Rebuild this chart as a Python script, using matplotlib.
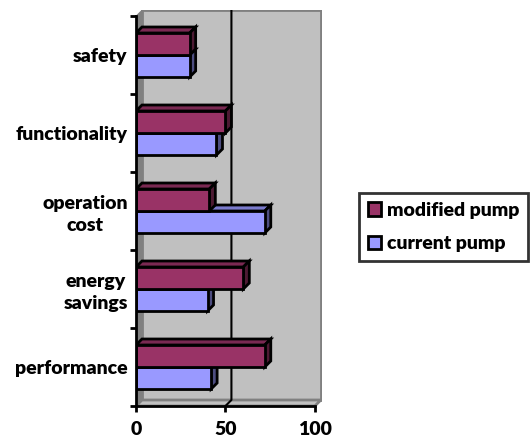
import numpy as np
import matplotlib.pyplot as plt
from matplotlib.patches import Polygon, Patch

plt.rcParams['font.family'] = 'Lato'
plt.rcParams['font.weight'] = 'heavy'
plt.rcParams['font.size'] = 14

categories = ['performance', 'energy\nsavings', 'operation\ncost', 'functionality', 'safety']
modified_pump = [72, 60, 41, 50, 30]
current_pump = [42, 40, 72, 45, 30]

c_mod = ('#993366', '#7a2952', '#4d1a33')   # front, top, side
c_cur = ('#9999ff', '#7a7acc', '#4d4d80')

W, H = 532, 441
fig = plt.figure(figsize=(W / 100, H / 100), dpi=100)
ax = fig.add_axes([136 / W, 1 - 406 / H, 186 / W, 396 / H])

xmax = 100
dx = 6 * 104 / 186          # depth offset in value units
dy = 6 / 78                 # depth offset in category units
ax.set_xlim(0, 104)
ax.set_ylim(-0.5, 4.5 + dy)

# walls and floor
ax.add_patch(Polygon([(dx, -0.5 + dy), (xmax + dx, -0.5 + dy), (xmax + dx, 4.5 + dy), (dx, 4.5 + dy)],
                     closed=True, fc='#c0c0c0', ec='#808080', lw=2, zorder=0))
ax.add_patch(Polygon([(0, -0.5), (dx, -0.5 + dy), (dx, 4.5 + dy), (0, 4.5)],
                     closed=True, fc='#808080', ec='#808080', lw=0.5, zorder=0))
ax.add_patch(Polygon([(0, -0.5), (xmax, -0.5), (xmax + dx, -0.5 + dy), (dx, -0.5 + dy)],
                     closed=True, fc='#c0c0c0', ec='#808080', lw=2, zorder=0))
ax.plot([50 + dx, 50 + dx, 50], [4.5 + dy, -0.5 + dy, -0.5], color='black', lw=1.5, zorder=1)

h = 0.282
y = np.arange(len(categories))


def bars3d(yc, vals, cols):
    ax.barh(yc, vals, height=h, color=cols[0], edgecolor='black', lw=2, zorder=3)
    for yi, v in zip(yc, vals):
        top = yi + h / 2
        bot = yi - h / 2
        ax.add_patch(Polygon([(0, top), (v, top), (v + dx, top + dy), (dx, top + dy)],
                             closed=True, fc=cols[1], ec='black', lw=2, zorder=2))
        ax.add_patch(Polygon([(v, bot), (v, top), (v + dx, top + dy), (v + dx, bot + dy)],
                             closed=True, fc=cols[2], ec='black', lw=2, zorder=2))


bars3d(y - h / 2, current_pump, c_cur)
bars3d(y + h / 2, modified_pump, c_mod)

# axes
for s in ['top', 'right']:
    ax.spines[s].set_visible(False)
ax.spines['left'].set_bounds(-0.5, 4.5)
ax.spines['bottom'].set_bounds(0, 100)
for s in ['left', 'bottom']:
    ax.spines[s].set_linewidth(2)
    ax.spines[s].set_zorder(5)

ax.set_xticks([0, 50, 100])
ax.set_xticklabels(['0', '50', '100'])
ax.set_yticks(np.arange(-0.5, 5, 1))
ax.set_yticklabels([])
ax.set_yticks(y, minor=True)
ax.set_yticklabels(categories, minor=True, ha='right', multialignment='center',
                   linespacing=1.3)
ax.tick_params(axis='y', which='minor', length=0, pad=6)
ax.tick_params(axis='both', which='major', length=4, width=2, direction='out')
ax.tick_params(axis='x', pad=7)

handles = [Patch(fc=c_mod[0], ec='black', lw=2, label='modified pump'),
           Patch(fc=c_cur[0], ec='black', lw=2, label='current pump')]
leg = fig.legend(handles=handles, loc='center left', bbox_to_anchor=(359 / W, 1 - 227 / H),
                 frameon=True, fancybox=False, edgecolor='black', handlelength=0.7,
                 handleheight=0.7, handletextpad=0.3, borderpad=0.45, labelspacing=0.85,
                 borderaxespad=0)
leg.get_frame().set_linewidth(2)

fig.savefig('out.png', dpi=100)
